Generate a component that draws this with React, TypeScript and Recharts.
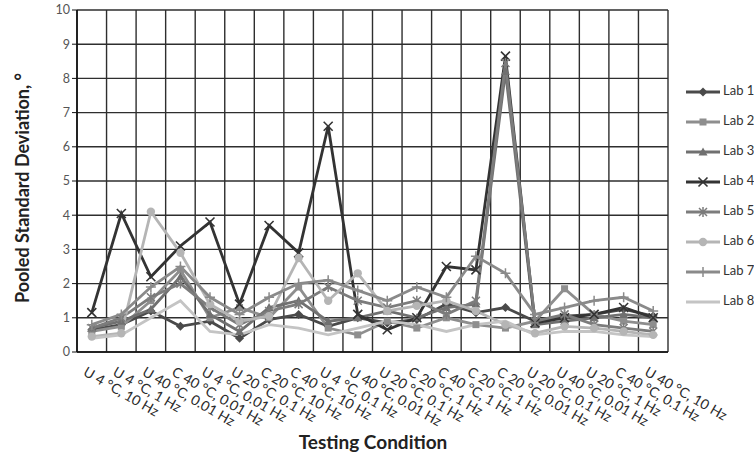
import React from 'react';
import { LineChart, Line, XAxis, YAxis, CartesianGrid } from 'recharts';

const conditions = [
	'U 4 °C, 10 Hz',
	'U 4 °C, 1 Hz',
	'U 40 °C, 0.01 Hz',
	'C 40 °C, 0.01 Hz',
	'U 4 °C, 0.01 Hz',
	'U 20 °C, 0.1 Hz',
	'C 20 °C, 10 Hz',
	'C 40 °C, 10 Hz',
	'U 4 °C, 0.1 Hz',
	'U 40 °C, 0.01 Hz',
	'U 20 °C, 0.1 Hz',
	'C 20 °C, 1 Hz',
	'C 40 °C, 1 Hz',
	'C 20 °C, 1 Hz',
	'C 20 °C, 0.01 Hz',
	'U 20 °C, 0.1 Hz',
	'U 40 °C, 0.01 Hz',
	'U 20 °C, 1 Hz',
	'C 40 °C, 0.1 Hz',
	'U 40 °C, 10 Hz'
];

const lab1 = [0.65, 0.8, 1.2, 0.75, 0.9, 0.4, 0.95, 1.1, 0.75, 1.0, 0.85, 0.95, 1.4, 1.15, 1.3, 0.9, 1.05, 1.1, 1.25, 1.05];
const lab2 = [0.6, 0.75, 1.5, 2.4, 1.0, 1.3, 1.0, 1.9, 0.7, 0.5, 0.9, 0.7, 1.0, 0.8, 0.7, 0.9, 1.85, 1.1, 0.9, 0.8];
const lab3 = [0.7, 0.9, 1.25, 2.2, 1.1, 0.6, 1.3, 1.5, 0.9, 1.0, 1.2, 1.0, 1.3, 1.4, 8.2, 0.8, 0.9, 1.0, 1.1, 1.0];
const lab4 = [1.15, 4.05, 2.2, 3.1, 3.8, 1.4, 3.7, 2.9, 6.6, 1.1, 0.65, 1.0, 2.5, 2.4, 8.65, 0.85, 1.0, 1.1, 1.3, 1.0];
const lab5 = [0.7, 1.0, 1.6, 2.0, 1.3, 0.8, 1.2, 1.4, 1.9, 1.5, 1.3, 1.5, 1.1, 1.5, 8.45, 0.9, 1.1, 0.8, 0.7, 0.6];
const lab6 = [0.45, 0.55, 4.1, 2.9, 1.4, 0.9, 1.05, 2.75, 1.5, 2.3, 1.2, 1.35, 1.5, 1.2, 0.8, 0.55, 0.75, 0.7, 0.6, 0.5];
const lab7 = [0.8, 1.1, 1.9, 2.5, 1.6, 1.1, 1.6, 2.0, 2.1, 1.8, 1.5, 1.9, 1.6, 2.8, 2.3, 1.1, 1.3, 1.5, 1.6, 1.2];
const lab8 = [0.4, 0.5, 1.0, 1.5, 0.6, 0.5, 0.8, 0.7, 0.5, 0.7, 0.9, 0.8, 0.6, 0.8, 0.9, 0.5, 0.6, 0.6, 0.5, 0.45];

const yTicks = [0, 1, 2, 3, 4, 5, 6, 7, 8, 9, 10];

const series = [
	{ key: 'lab1', name: 'Lab 1', values: lab1, color: '#4a4a4a', marker: 'diamond' },
	{ key: 'lab2', name: 'Lab 2', values: lab2, color: '#8e8e8e', marker: 'square' },
	{ key: 'lab3', name: 'Lab 3', values: lab3, color: '#707070', marker: 'triangle' },
	{ key: 'lab4', name: 'Lab 4', values: lab4, color: '#333333', marker: 'x' },
	{ key: 'lab5', name: 'Lab 5', values: lab5, color: '#7c7c7c', marker: 'star' },
	{ key: 'lab6', name: 'Lab 6', values: lab6, color: '#b5b5b5', marker: 'circle' },
	{ key: 'lab7', name: 'Lab 7', values: lab7, color: '#8a8a8a', marker: 'plus' },
	{ key: 'lab8', name: 'Lab 8', values: lab8, color: '#c4c4c4', marker: 'none' }
];

const data = conditions.map((cond, i) => {
	const row: Record<string, any> = { cond };
	series.forEach((s) => {
		row[s.key] = s.values[i];
	});
	return row;
});

const FONT = 'Lato, "Open Sans", sans-serif';

function Marker({ shape, cx, cy, color }: { shape: string; cx: number; cy: number; color: string }) {
	const s = 4.5;
	switch (shape) {
		case 'diamond':
			return <path d={`M${cx} ${cy - s} L${cx + s} ${cy} L${cx} ${cy + s} L${cx - s} ${cy} Z`} fill={color} />;
		case 'square':
			return <rect x={cx - 3.5} y={cy - 3.5} width={7} height={7} fill={color} />;
		case 'triangle':
			return <path d={`M${cx} ${cy - s} L${cx + s} ${cy + 3.5} L${cx - s} ${cy + 3.5} Z`} fill={color} />;
		case 'x':
			return (
				<path
					d={`M${cx - s} ${cy - s} L${cx + s} ${cy + s} M${cx + s} ${cy - s} L${cx - s} ${cy + s}`}
					stroke={color}
					strokeWidth={1.6}
				/>
			);
		case 'star':
			return (
				<path
					d={`M${cx - 4} ${cy - 4} L${cx + 4} ${cy + 4} M${cx + 4} ${cy - 4} L${cx - 4} ${cy + 4} M${cx} ${cy - 5} L${cx} ${cy + 5}`}
					stroke={color}
					strokeWidth={1.5}
				/>
			);
		case 'circle':
			return <circle cx={cx} cy={cy} r={4.2} fill={color} />;
		case 'plus':
			return <path d={`M${cx} ${cy - 5} L${cx} ${cy + 5} M${cx - 5} ${cy} L${cx + 5} ${cy}`} stroke={color} strokeWidth={1.5} />;
		default:
			return null;
	}
}

function ConditionTick({ x, y, payload }: any) {
	return (
		<text
			x={x - 4}
			y={y + 5}
			transform={`rotate(30, ${x - 4}, ${y + 5})`}
			textAnchor='start'
			dominantBaseline='hanging'
			fontSize={14}
			fontFamily={FONT}
			fill='#2a2a2a'
		>
			{payload.value}
		</text>
	);
}

export default function App() {
	return (
		<div style={{ position: 'absolute', left: 0, top: 0, width: 754, height: 460, background: '#fff' }}>
			<LineChart
				width={754}
				height={460}
				data={data}
				margin={{ top: 10, right: 86, bottom: 18, left: 17 }}
				style={{ fontFamily: FONT }}
			>
				<CartesianGrid
					stroke='#2e2e2e'
					strokeWidth={1.4}
					verticalCoordinatesGenerator={({ offset }: any) =>
						Array.from({ length: conditions.length + 1 }, (_, k) => offset.left + (k * offset.width) / conditions.length)
					}
				/>
				<XAxis
					dataKey='cond'
					interval={0}
					height={90}
					padding={{ left: 14.8, right: 14.8 }}
					tickLine={false}
					axisLine={{ stroke: '#111', strokeWidth: 1.6 }}
					tick={<ConditionTick />}
				/>
				<YAxis
					domain={[0, 10]}
					ticks={yTicks}
					width={60}
					tickSize={5}
					tickLine={{ stroke: '#111' }}
					axisLine={{ stroke: '#111', strokeWidth: 1.6 }}
					tick={{ fontSize: 12.5, fill: '#555', fontFamily: FONT }}
				/>
				{series.map((s) => (
					<Line
						key={s.key}
						dataKey={s.key}
						name={s.name}
						type='linear'
						stroke={s.color}
						strokeWidth={2.8}
						isAnimationActive={false}
						dot={(p: any) => <Marker key={`${s.key}-${p.index}`} shape={s.marker} cx={p.cx} cy={p.cy} color={s.color} />}
						activeDot={false}
					/>
				))}
			</LineChart>
			<svg width={754} height={460} style={{ position: 'absolute', left: 0, top: 0, pointerEvents: 'none' }}>
				<text
					transform='translate(29, 188) rotate(-90)'
					textAnchor='middle'
					fontSize={18}
					fontWeight='bold'
					fontFamily={FONT}
					fill='#222'
				>
					Pooled Standard Deviation, °
				</text>
				<text x={373} y={449} textAnchor='middle' fontSize={19} fontWeight='bold' fontFamily={FONT} fill='#222'>
					Testing Condition
				</text>
				{series.map((s, i) => {
					const y = 92 + i * 30;
					return (
						<g key={s.key}>
							<line x1={686} x2={720} y1={y} y2={y} stroke={s.color} strokeWidth={2.8} />
							<Marker shape={s.marker} cx={703} cy={y} color={s.color} />
							<text x={723} y={y} dominantBaseline='middle' fontSize={13} fontFamily={FONT} fill='#333'>
								{s.name}
							</text>
						</g>
					);
				})}
			</svg>
		</div>
	);
}
